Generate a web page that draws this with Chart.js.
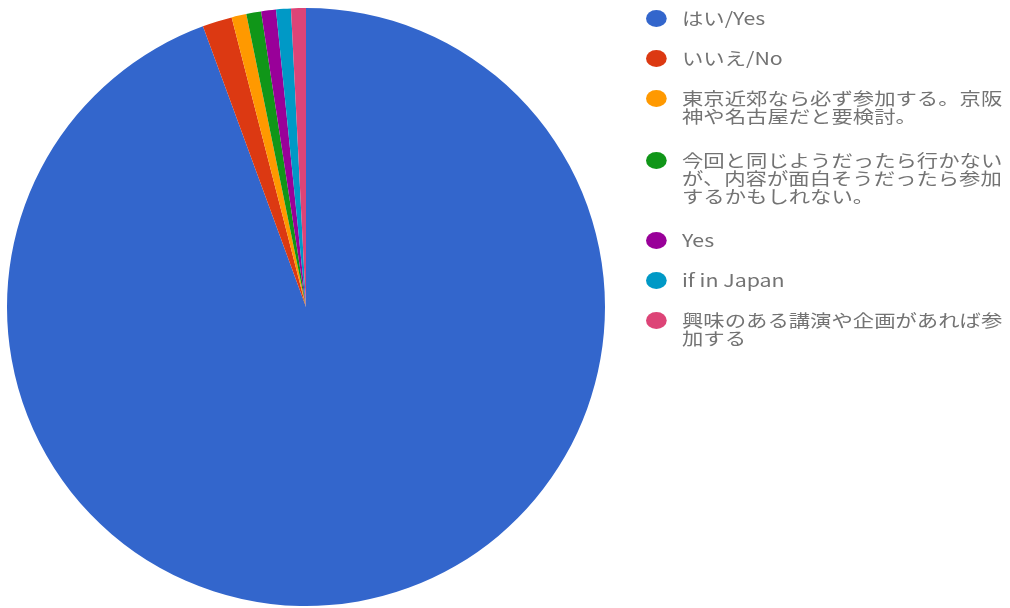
<!DOCTYPE html>
<html>
<head>
<meta charset="utf-8">
<script src="https://cdn.jsdelivr.net/npm/chart.js@4/dist/chart.umd.min.js"></script>
<style>
  html, body { margin: 0; padding: 0; background: #fff; }
  #wrap { position: relative; width: 1010px; height: 608px; overflow: hidden; }
  #chart { position: absolute; left: 0; top: 0; }
  #legend {
    position: absolute; left: 646px; top: 9px;
    transform: scaleX(1.22); transform-origin: 0 0;
    font-family: "Noto Sans CJK JP", "Noto Sans", sans-serif;
    font-size: 17.5px; color: #737373; white-space: nowrap;
  }
  .item { position: relative; padding-left: 29.5px; margin-bottom: 22px; line-height: 18px; }
  .item.multi { margin-bottom: 26px; }
  .dot { position: absolute; left: 0; top: 1px; width: 17px; height: 17px; border-radius: 50%; }
</style>
</head>
<body>
<div id="wrap">
  <canvas id="chart" width="1010" height="608"></canvas>
  <div id="legend"></div>
</div>
<script>
const categories = [
  'はい/Yes',
  'いいえ/No',
  ['東京近郊なら必ず参加する。京阪', '神や名古屋だと要検討。'],
  ['今回と同じようだったら行かない', 'が、内容が面白そうだったら参加', 'するかもしれない。'],
  'Yes',
  'if in Japan',
  ['興味のある講演や企画があれば参', '加する']
];
const responses = [118, 2, 1, 1, 1, 1, 1];
const colors = ['#3366cc', '#dc3912', '#ff9900', '#109618', '#990099', '#0099c6', '#dd4477'];

new Chart(document.getElementById('chart'), {
  type: 'pie',
  data: {
    labels: categories,
    datasets: [{ data: responses, backgroundColor: colors, borderWidth: 0 }]
  },
  options: {
    responsive: false,
    animation: false,
    layout: { padding: { left: 7, top: 8, right: 405, bottom: 2 } },
    plugins: { legend: { display: false }, tooltip: { enabled: false } }
  }
});

const legend = document.getElementById('legend');
categories.forEach((lab, i) => {
  const lines = Array.isArray(lab) ? lab : [lab];
  const item = document.createElement('div');
  item.className = 'item' + (lines.length > 1 ? ' multi' : '');
  const dot = document.createElement('span');
  dot.className = 'dot';
  dot.style.background = colors[i];
  item.appendChild(dot);
  lines.forEach(t => {
    const d = document.createElement('div');
    d.textContent = t;
    item.appendChild(d);
  });
  legend.appendChild(item);
});
</script>
</body>
</html>
